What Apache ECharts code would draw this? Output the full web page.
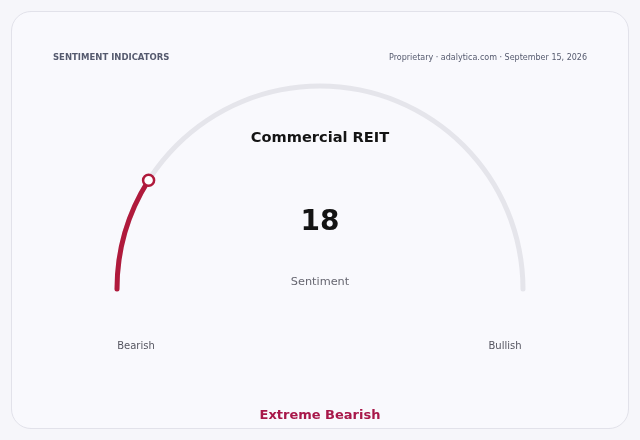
<!DOCTYPE html>
<html>
<head>
<meta charset="utf-8">
<script src="https://cdn.jsdelivr.net/npm/echarts@6/dist/echarts.min.js"></script>
<style>
  html, body { margin: 0; padding: 0; background: #f6f6fa; }
  #card {
    position: absolute; left: 11px; top: 11px; width: 616px; height: 416px;
    border: 1px solid #e2e2ea; border-radius: 20px; background: #f9f9fd;
  }
  #chart { position: absolute; left: 0; top: 0; width: 640px; height: 440px; }
</style>
</head>
<body>
<div id="card"></div>
<div id="chart"></div>
<script>
// data
var gaugeName = 'Commercial REIT';
var gaugeValue = 18;
var gaugeMin = 0;
var gaugeMax = 100;
var endLabels = ['Bearish', 'Bullish'];
var zoneLabel = 'Extreme Bearish';
var header = ['SENTIMENT INDICATORS', 'Proprietary · adalytica.com · September 15, 2026'];

var red = '#b01a3c';
var font = 'DejaVu Sans';
var cx = 320, cy = 289, r = 203, lw = 5;

var myChart = echarts.init(document.getElementById('chart'));
var option = {
    backgroundColor: 'transparent',
    textStyle: { fontFamily: font },
    polar: { center: [cx, cy], radius: r },
    angleAxis: {
        type: 'value', min: gaugeMin, max: gaugeMin + (gaugeMax - gaugeMin) * 2,
        startAngle: 180, clockwise: true, show: false
    },
    radiusAxis: { type: 'value', min: 0, max: 1, show: false },
    graphic: [
        { type: 'text', x: 53, y: 58, style: { text: header[0], fill: '#555a6e', font: 'bold 8.5px ' + font, verticalAlign: 'middle' } },
        { type: 'text', x: 587, y: 58, style: { text: header[1], fill: '#555a6e', font: '8px ' + font, align: 'right', verticalAlign: 'middle' } },
        { type: 'text', x: cx, y: 138.5, style: { text: gaugeName, fill: '#141414', font: 'bold 14.6px ' + font, align: 'center', verticalAlign: 'middle' } },
        { type: 'text', x: cx, y: 223, style: { text: String(gaugeValue), fill: '#141414', font: 'bold 28px ' + font, align: 'center', verticalAlign: 'middle' } },
        { type: 'text', x: cx, y: 282.5, style: { text: 'Sentiment', fill: '#666670', font: '11.3px ' + font, align: 'center', verticalAlign: 'middle' } },
        { type: 'text', x: 136, y: 346.5, style: { text: endLabels[0], fill: '#555560', font: '10px ' + font, align: 'center', verticalAlign: 'middle' } },
        { type: 'text', x: 505, y: 346.5, style: { text: endLabels[1], fill: '#555560', font: '10px ' + font, align: 'center', verticalAlign: 'middle' } },
        { type: 'text', x: cx, y: 415.5, style: { text: zoneLabel, fill: '#a8184a', font: 'bold 13px ' + font, align: 'center', verticalAlign: 'middle' } }
    ],
    series: [
        {
            type: 'gauge',
            center: [cx, cy],
            radius: r + lw / 2,
            startAngle: 180,
            endAngle: 0,
            min: gaugeMin,
            max: gaugeMax,
            axisLine: { roundCap: true, lineStyle: { width: lw, color: [[1, '#e5e5eb']] } },
            progress: { show: true, roundCap: true, width: lw, itemStyle: { color: red } },
            pointer: { show: false },
            axisTick: { show: false },
            splitLine: { show: false },
            axisLabel: { show: false },
            anchor: { show: false },
            title: { show: false },
            detail: { show: false },
            data: [{ value: gaugeValue, name: gaugeName }]
        },
        {
            type: 'scatter',
            coordinateSystem: 'polar',
            symbol: 'circle',
            symbolSize: 11,
            itemStyle: { color: '#ffffff', borderColor: red, borderWidth: 2.5, opacity: 1 },
            data: [[1, gaugeValue]],
            silent: true,
            z: 5
        }
    ]
};
myChart.setOption(option);
</script>
</body>
</html>
